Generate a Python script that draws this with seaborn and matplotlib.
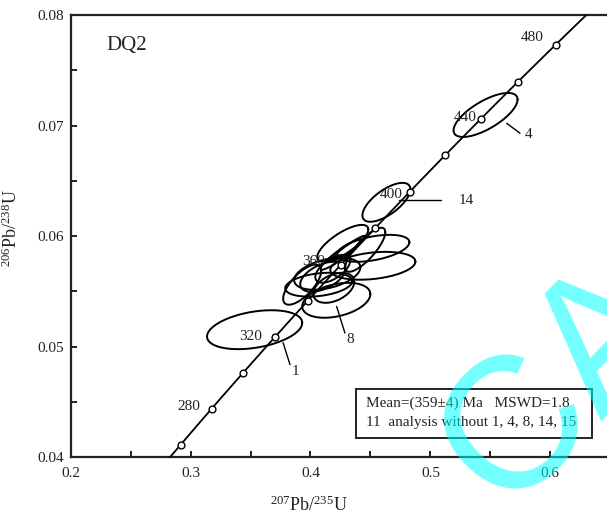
import numpy as np
import pandas as pd
import matplotlib
matplotlib.use("Agg")
import matplotlib.pyplot as plt
from matplotlib.patches import Rectangle
import seaborn as sns

# Zircon U-Pb analyses of sample DQ2: ratios, 2-sigma half-widths and error correlation
spot = [1, 2, 3, 4, 5, 6, 7, 8, 9, 10, 11, 12, 13, 14, 15, 16]
pb207_u235 = [0.3534, 0.4524, 0.4269, 0.5460, 0.4457, 0.4194, 0.3931, 0.4215,
              0.4069, 0.4140, 0.4249, 0.4311, 0.4186, 0.4633, 0.4520, 0.4102]
pb206_u238 = [0.05154, 0.05890, 0.05935, 0.07096, 0.05877, 0.05533, 0.05561, 0.05420,
              0.05561, 0.05660, 0.05832, 0.05886, 0.05705, 0.06306, 0.05732, 0.05633]
err_207_235 = [0.0397, 0.0301, 0.0213, 0.0267, 0.0167, 0.0171, 0.0159, 0.0284,
               0.0280, 0.0276, 0.0167, 0.0146, 0.0146, 0.0200, 0.0355, 0.0188]
err_206_238 = [0.00176, 0.00122, 0.00167, 0.00199, 0.00199, 0.00136, 0.00181, 0.00158,
               0.00108, 0.00145, 0.00136, 0.00117, 0.00126, 0.00176, 0.00126, 0.00136]
rho = [0.35, 0.45, 0.75, 0.70, 0.80, 0.40, 0.70, 0.35,
       0.30, 0.40, 0.93, 0.95, 0.60, 0.67, 0.30, 0.50]

# Concordia age marks (Ma) and which of them carry a label
age_marks = [260, 280, 300, 320, 340, 360, 380, 400, 420, 440, 460, 480]
age_labels = [280, 320, 360, 400, 440, 480]

# Decay constants (1/yr)
L238 = 1.55125e-10
L235 = 9.8485e-10

sns.set_style("ticks")
plt.rcParams["font.family"] = ["Liberation Serif", "DejaVu Serif"]
plt.rcParams["mathtext.fontset"] = "custom"
plt.rcParams["mathtext.rm"] = "Liberation Serif"
plt.rcParams["mathtext.it"] = "Liberation Serif:italic"

W, H = 607, 516
fig = plt.figure(figsize=(W / 100, H / 100), dpi=100)
ax = fig.add_axes([70.7 / W, (H - 457.3) / H, (W - 70.7) / W, 442.3 / H])

# Concordia curve
t = np.linspace(240, 510, 400) * 1e6
conc = pd.DataFrame({"x": np.expm1(L235 * t), "y": np.expm1(L238 * t)})
sns.lineplot(data=conc, x="x", y="y", sort=False, estimator=None,
             color="black", lw=1.3, ax=ax, zorder=3)

# Error ellipses
phi = np.linspace(0, 2 * np.pi, 181)
rows = []
for s, cx, cy, ex, ey, r in zip(spot, pb207_u235, pb206_u238, err_207_235, err_206_238, rho):
    ex_pts = cx + ex * np.cos(phi)
    ey_pts = cy + ey * (r * np.cos(phi) + np.sqrt(1 - r * r) * np.sin(phi))
    rows.append(pd.DataFrame({"spot": s, "x": ex_pts, "y": ey_pts}))
ell = pd.concat(rows, ignore_index=True)
sns.lineplot(data=ell, x="x", y="y", units="spot", estimator=None, sort=False,
             color="black", lw=1.4, ax=ax, zorder=2)

# Age markers on concordia
ages = np.array(age_marks) * 1e6
marks = pd.DataFrame({"age": age_marks, "x": np.expm1(L235 * ages), "y": np.expm1(L238 * ages)})
sns.scatterplot(data=marks, x="x", y="y", s=24, facecolor="white", edgecolor="black",
                linewidth=1.0, ax=ax, zorder=4)

label_offsets = {280: (-8, 1.5), 320: (-9.5, 0), 360: (-11.5, 2),
                 400: (-5, -2), 440: (-3.5, 0.5), 480: (-8.5, 5)}
for a in age_labels:
    row = marks[marks["age"] == a].iloc[0]
    ax.annotate(str(a), (row["x"], row["y"]), xytext=label_offsets[a],
                textcoords="offset points", ha="right", va="center",
                fontsize=11, color="#222222", zorder=5)

# Spot number call-outs
callouts = [
    ("1", (0.3771, 0.05037), (0.3829, 0.04838), (0.3871, 0.04774)),
    ("4", (0.5636, 0.07021), (0.5747, 0.06931), (0.5816, 0.06916)),
    ("8", (0.4218, 0.05364), (0.4287, 0.05124), (0.4329, 0.05064)),
    ("14", (0.4736, 0.06329), (0.5091, 0.06329), (0.5296, 0.06319)),
]
for txt, p0, p1, pt in callouts:
    ax.plot([p0[0], p1[0]], [p0[1], p1[1]], color="black", lw=1.0, zorder=5)
    ax.text(pt[0], pt[1], txt, ha="center", va="center", fontsize=11, color="#222222")

ax.set_xlim(0.2, 0.2 + 536.3 / 1199)
ax.set_ylim(0.04, 0.08)
ax.set_xticks([0.2, 0.3, 0.4, 0.5, 0.6])
ax.set_xticklabels(["0.2", "0.3", "0.4", "0.5", "0.6"])
ax.set_xticks([0.25, 0.35, 0.45, 0.55], minor=True)
ax.set_yticks([0.04, 0.05, 0.06, 0.07, 0.08])
ax.set_yticklabels(["0.04", "0.05", "0.06", "0.07", "0.08"])
ax.set_yticks([0.045, 0.055, 0.065, 0.075], minor=True)
ax.tick_params(which="both", direction="in", length=4.3, width=1.4, color="#222222")
ax.tick_params(axis="x", which="major", pad=7, labelsize=11, labelcolor="#222222")
ax.tick_params(axis="y", which="major", pad=5, labelsize=11, labelcolor="#222222")
for side in ["left", "bottom", "top"]:
    ax.spines[side].set_linewidth(1.6)
    ax.spines[side].set_color("#222222")
ax.spines["right"].set_visible(False)
ax.set_xlabel("")
ax.set_ylabel("")

fig.text(309 / W, 1 - 505 / H, r"$^{207}\mathrm{Pb}/^{235}\mathrm{U}$",
         ha="center", va="center", fontsize=13, color="#222222")
fig.text(11 / W, 1 - 228 / H, r"$^{206}\mathrm{Pb}/^{238}\mathrm{U}$",
         ha="center", va="center", rotation=90, fontsize=13, color="#222222")

ax.text(0.105, 0.932, "DQ2", transform=ax.transAxes, ha="center", va="center",
        fontsize=15, color="#222222")

ax.add_patch(Rectangle((0.532, 0.0436), 0.44, 0.1108, transform=ax.transAxes,
                       fill=False, lw=1.4, edgecolor="#222222", zorder=6))
ax.text(0.5506, 0.1228, "Mean=(359±4) Ma   MSWD=1.8", transform=ax.transAxes,
        ha="left", va="center", fontsize=11, color="#222222", zorder=6)
ax.text(0.5506, 0.0798, "11  analysis without 1, 4, 8, 14, 15", transform=ax.transAxes,
        ha="left", va="center", fontsize=11, color="#222222", zorder=6)

# Watermark across the lower-right corner
fig.text(505 / W, 4 / H, "CA", rotation=46, rotation_mode="anchor",
         ha="left", va="baseline", fontsize=135, family="Liberation Sans",
         color=(0.0, 1.0, 1.0), alpha=0.55, zorder=20)

fig.savefig("out.png", dpi=100)
